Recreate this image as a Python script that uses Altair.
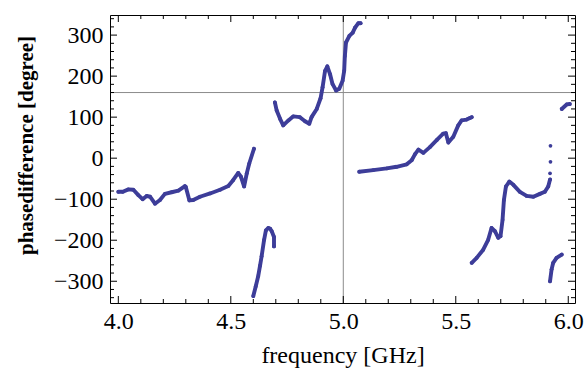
import altair as alt
import pandas as pd

# ---- data (frequency in GHz, phase difference in degrees)
seg1_f = [4.00, 4.02, 4.045, 4.067, 4.089, 4.108, 4.126, 4.141, 4.163, 4.185, 4.207, 4.237,
          4.267, 4.296, 4.300, 4.316, 4.333, 4.363, 4.408, 4.452, 4.489, 4.511, 4.533, 4.545,
          4.559, 4.571, 4.582, 4.603]
seg1_p = [-82, -82, -76, -77, -90, -100, -92, -94, -111, -102, -87, -83,
          -79, -68, -70, -103, -102, -94, -86, -77, -68, -53, -36, -45,
          -69, -37, -13, 23]

seg2_f = [4.600, 4.611, 4.622, 4.630, 4.637, 4.648, 4.656, 4.667, 4.675, 4.682, 4.692, 4.692]
seg2_p = [-336, -312, -287, -262, -239, -199, -176, -170, -172, -178, -192, -215]

seg3_f = [4.696, 4.704, 4.719, 4.733, 4.756, 4.778, 4.807, 4.830, 4.849, 4.859, 4.882, 4.899,
          4.908, 4.919, 4.929, 4.941, 4.952, 4.968, 4.982, 4.997, 5.004, 5.007, 5.012, 5.027,
          5.042, 5.052, 5.067, 5.077]
seg3_p = [136, 116, 96, 80, 92, 102, 100, 90, 84, 100, 120, 146,
          173, 213, 224, 205, 181, 165, 169, 189, 213, 249, 282, 298,
          306, 318, 329, 329]

seg4_f = [5.071, 5.133, 5.193, 5.237, 5.282, 5.304, 5.319, 5.334, 5.356, 5.385, 5.415, 5.444,
          5.456, 5.467, 5.489, 5.511, 5.526, 5.548, 5.563, 5.571]
seg4_p = [-33, -29, -25, -21, -15, -5, 10, 21, 13, 27, 44, 60,
          61, 38, 52, 80, 92, 94, 98, 100]

seg5_f = [5.571, 5.593, 5.622, 5.644, 5.659, 5.674, 5.689, 5.699, 5.708, 5.714, 5.723, 5.738,
          5.756, 5.785, 5.815, 5.845, 5.874, 5.896, 5.911, 5.919]
seg5_p = [-255, -243, -223, -199, -170, -178, -194, -190, -150, -102, -69, -57,
          -65, -82, -92, -94, -87, -82, -69, -52]

iso_f = [5.919, 5.921, 5.921]
iso_p = [-37, -9, 30]

seg6_f = [5.919, 5.926, 5.933, 5.948, 5.971]
seg6_p = [-300, -271, -255, -243, -235]

seg7_f = [5.971, 5.993, 6.007]
seg7_p = [120, 131, 132]

x_major = [4.0, 4.5, 5.0, 5.5, 6.0]
x_minor = [4.1, 4.2, 4.3, 4.4, 4.6, 4.7, 4.8, 4.9, 5.1, 5.2, 5.3, 5.4, 5.6, 5.7, 5.8, 5.9]
y_major = [-300, -200, -100, 0, 100, 200, 300]
y_minor = [v for v in range(-340, 341, 20) if v % 100 != 0]

ref_f = [5.0]
ref_p = [160]

# ---- build tables
rows = []
for name, fs, ps in [("s1", seg1_f, seg1_p), ("s2", seg2_f, seg2_p), ("s3", seg3_f, seg3_p),
                     ("s4", seg4_f, seg4_p), ("s5", seg5_f, seg5_p), ("s6", seg6_f, seg6_p),
                     ("s7", seg7_f, seg7_p)]:
    for f, p in zip(fs, ps):
        rows.append({"seg": name, "f": f, "p": p})
lines_df = pd.DataFrame(rows)
iso_df = pd.DataFrame({"f": iso_f, "p": iso_p})
pts_df = pd.concat([lines_df[["f", "p"]], iso_df], ignore_index=True)

W, H = 465, 288
COL = "#3d3d99"
FONT = "Liberation Serif"

xs = alt.Scale(domain=[3.963, 6.030], nice=False, zero=False)
ys = alt.Scale(domain=[-353, 349], nice=False, zero=False)
x_axis = alt.Axis(values=x_major, format=".1f", title="frequency [GHz]",
                  labelPadding=6, titlePadding=10,
                  labelFont=FONT, labelFontSize=24, labelColor="black",
                  titleFont=FONT, titleFontSize=24, titleColor="black", titleFontWeight="normal")
y_axis = alt.Axis(values=y_major, format="d", title="phasedifference [degree]",
                  labelPadding=7, titlePadding=17,
                  labelFont=FONT, labelFontSize=24, labelColor="black",
                  titleFont=FONT, titleFontSize=21, titleColor="black", titleFontWeight="bold",
                  titleY=130)
X = alt.X("f:Q", scale=xs, axis=x_axis)
Y = alt.Y("p:Q", scale=ys, axis=y_axis)

lines = alt.Chart(lines_df).mark_line(color=COL, strokeWidth=3.9, strokeCap="round",
                                      strokeJoin="round").encode(x=X, y=Y, detail="seg:N")
points = alt.Chart(pts_df).mark_circle(color=COL, size=14, opacity=1).encode(x=X, y=Y)

vref = alt.Chart(pd.DataFrame({"f": ref_f})).mark_rule(color="#8c8c8c", strokeWidth=1).encode(x=X)
href = alt.Chart(pd.DataFrame({"p": ref_p})).mark_rule(color="#8c8c8c", strokeWidth=1).encode(y=Y)

def xticks(vals, ln):
    d = pd.DataFrame({"f": vals})
    b = alt.Chart(d).mark_rule(color="black", strokeWidth=1).encode(
        x=X, y=alt.value(H), y2=alt.value(H - ln))
    t = alt.Chart(d).mark_rule(color="black", strokeWidth=1).encode(
        x=X, y=alt.value(0), y2=alt.value(ln))
    return [b, t]

def yticks(vals, ln):
    d = pd.DataFrame({"p": vals})
    l = alt.Chart(d).mark_rule(color="black", strokeWidth=1).encode(
        y=Y, x=alt.value(0), x2=alt.value(ln))
    r = alt.Chart(d).mark_rule(color="black", strokeWidth=1).encode(
        y=Y, x=alt.value(W), x2=alt.value(W - ln))
    return [l, r]

layers = [vref, href] + xticks(x_major, 7) + xticks(x_minor, 4) + yticks(y_major, 7) + \
    yticks(y_minor, 4) + [lines, points]

chart = alt.layer(*layers).properties(
    width=W, height=H,
    autosize=alt.AutoSizeParams(type="none"),
    padding={"left": 110, "top": 15, "right": 9, "bottom": 69},
    background="white",
).configure_view(stroke="black", strokeWidth=1).configure_axis(
    grid=False, ticks=False, domain=False,
    labelFont=FONT, labelFontSize=24, labelColor="black",
    titleFont=FONT, titleFontSize=24, titleColor="black", titleFontWeight="normal",
)

chart.save("out.html", embed_options={"renderer": "svg", "actions": False})
